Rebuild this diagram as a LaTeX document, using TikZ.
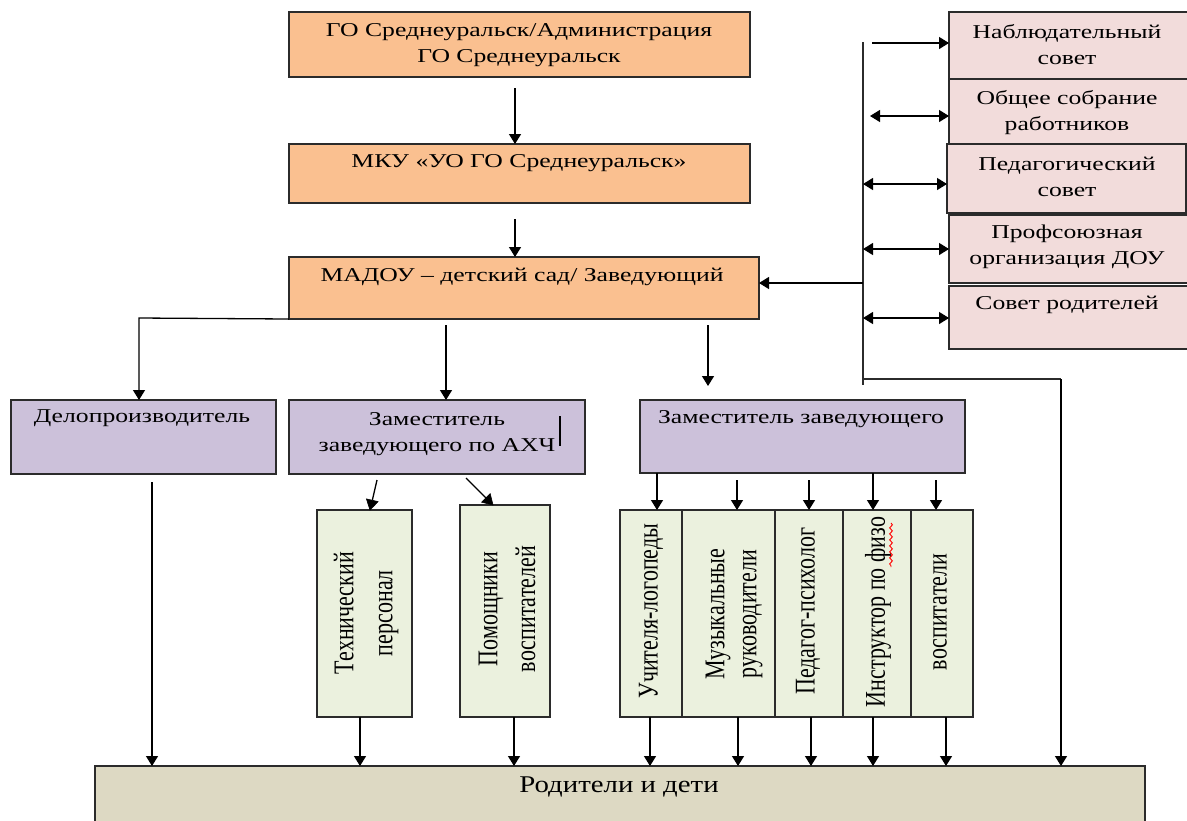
\documentclass[tikz,border=0pt]{standalone}
\usepackage{fontspec}
\setmainfont{Liberation Serif}
\usetikzlibrary{arrows.meta,fit,decorations.pathmorphing}
\definecolor{orbox}{HTML}{FAC090}
\definecolor{purbox}{HTML}{CCC1DA}
\definecolor{pinkbox}{HTML}{F2DCDB}
\definecolor{grbox}{HTML}{EBF1DE}
\definecolor{tanbox}{HTML}{DDD9C3}
\definecolor{edge}{HTML}{2B2B2B}
\begin{document}
\begin{tikzpicture}[x=0.5pt,y=-0.5pt,
  box/.style={draw=edge, line width=0.7pt, inner sep=0pt, outer sep=0pt},
  orbx/.style={box, fill=orbox},
  pubx/.style={box, fill=purbox},
  pkbx/.style={box, fill=pinkbox},
  grbx/.style={box, fill=grbox},
  tnbx/.style={box, fill=tanbox},
  lbl/.style={font=\fontsize{9.8}{13}\selectfont, align=center, inner sep=0pt, xscale=1.31},
  vlbl/.style={font=\fontsize{11}{15}\selectfont, align=center, inner sep=0pt, rotate=90, yscale=1.3},
  arr/.style={draw=black, line width=0.65pt, -{Triangle[length=5pt,width=6pt]}},
  darr/.style={draw=black, line width=0.65pt, {Triangle[length=5pt,width=6pt]}-{Triangle[length=5pt,width=6pt]}},
  ln/.style={draw=edge, line width=0.65pt},
  lnk/.style={draw=black, line width=0.65pt},
  tiphead/.style={fill=black, draw=black, line width=0.3pt, line join=miter},
]
\useasboundingbox (0,0) rectangle (1187,820);
\clip (0,0) rectangle (1187,820);

% top chain
\node[orbx, fit={(289,12) (750,77)}] (gov) {};
\node[lbl] (govt) at (519,45) {ГО Среднеуральск/Администрация\\ГО Среднеуральск};
\node[orbx, fit={(289,144) (750,203)}] (mku) {};
\node[lbl] (mkut) at (519,163) {МКУ «УО ГО Среднеуральск»};
\node[orbx, fit={(289,257) (759,319)}] (madou) {};
\node[lbl] (madout) at (522,277) {МАДОУ – детский сад/ Заведующий};

\draw[arr] (515,0 |- 0,88) -- (515,0 |- mku.north);
\draw[arr] (515,0 |- 0,219) -- (515,0 |- madou.north);

% right councils
\node[pkbx, fit={(949,12) (1190,79)}] (ns) {};
\node[lbl] (nst) at (1067,45) {Наблюдательный\\совет};
\node[pkbx, fit={(949,79) (1190,144)}] (os) {};
\node[lbl] (ost) at (1067,113) {Общее собрание\\работников};
\node[pkbx, fit={(947,144) (1186,213)}] (ps) {};
\node[lbl] (pst) at (1067,177) {Педагогический\\совет};
\node[pkbx, fit={(949,215) (1190,283)}] (prof) {};
\node[lbl] (proft) at (1067,247) {Профсоюзная\\организация ДОУ};
\node[pkbx, fit={(949,286) (1190,349)}] (sr) {};
\node[lbl] (srt) at (1067,305) {Совет родителей};

\coordinate (vtop) at (863,42);
\coordinate (vbot) at (863,385);
\draw[ln] (vtop) -- (vbot);
\draw[arr] (872,43) -- (ns.west |- 0,43);
\draw[darr] (870,116) -- (os.west |- 0,116);
\draw[darr] (863,184) -- (ps.west |- 0,184);
\draw[darr] (863,249) -- (prof.west |- 0,249);
\draw[darr] (863,318) -- (sr.west |- 0,318);
\draw[arr] (863,283) -- (madou.east |- 0,283);

% second level
\node[pubx, fit={(11,400) (276,474)}] (delo) {};
\node[lbl] (delot) at (142,418) {Делопроизводитель};
\node[pubx, fit={(289,400) (585,474)}] (zahch) {};
\node[lbl] (zahcht) at (437,434) {Заместитель\\заведующего по АХЧ};
\draw[line width=1pt] (560,416) -- (560,446);
\node[pubx, fit={(640,400) (965,473)}] (zz) {};
\node[lbl] (zzt) at (801,419) {Заместитель заведующего};

\draw[arr] (madou.south west) -- (139,318) -- (139,0 |- delo.north);
\draw[arr] (446,0 |- 0,325) -- (446,0 |- zahch.north);
\draw[arr] (708,0 |- 0,325) -- (708,386);
\draw[ln] (863,379) -- (1061,379);

% green boxes
\node[grbx, fit={(317,510) (412,717)}] (tech) {};
\node[vlbl] (techt) at (366,613) {Технический\\персонал};
\node[grbx, fit={(460,505) (550,717)}] (pom) {};
\node[vlbl, font=\fontsize{11}{14.6}\selectfont] (pomt) at (507,609) {Помощники\\воспитателей};

\node[grbx, fit={(620,510) (682,717)}] (ul) {};
\node[vlbl] (ult) at (651,611) {Учителя-логопеды};
\node[grbx, fit={(682,510) (775,717)}] (muz) {};
\node[vlbl, font=\fontsize{11}{12.3}\selectfont] (muzt) at (734,614) {Музыкальные\\руководители};
\node[grbx, fit={(775,510) (843,717)}] (psy) {};
\node[vlbl] (psyt) at (808,611) {Педагог-психолог};
\node[grbx, fit={(843,510) (911,717)}] (fiz) {};
\node[vlbl] (fizt) at (878,612) {Инструктор по физо};
\draw[red, line width=0.45pt, decorate, decoration={snake, amplitude=0.7pt, segment length=3pt}] (891,523) -- (891,567);
\node[grbx, fit={(911,510) (973,717)}] (vos) {};
\node[vlbl] (vost) at (940,612) {воспитатели};

% slanted arrows from the AHCh deputy (heads drawn as filled triangles)
\coordinate (techin) at (370,0 |- tech.north);
\coordinate (pomin) at (493,0 |- pom.north);
\draw[lnk] (377,480) -- (372.3,500.3);
\fill[tiphead] (techin) -- (366.4,498.9) -- (378.1,501.6) -- cycle;
\draw[lnk] (466,478) -- (485.9,497.9);
\fill[tiphead] (pomin) -- (481.7,502.2) -- (490.2,493.7) -- cycle;

\draw[arr] (657,0 |- zz.south) -- (657,0 |- ul.north);
\draw[arr] (737,480) -- (737,0 |- muz.north);
\draw[arr] (809,480) -- (809,0 |- psy.north);
\draw[arr] (873,0 |- zz.south) -- (873,0 |- fiz.north);
\draw[arr] (936,480) -- (936,0 |- vos.north);

% bottom
\node[tnbx, fit={(95,766) (1145,840)}] (rd) {};
\node[font=\fontsize{12}{14}\selectfont, inner sep=0pt, xscale=1.2] (rdt) at (619,787) {Родители и дети};

\draw[arr] (152,482) -- (152,0 |- rd.north);
\draw[arr] (360,0 |- tech.south) -- (360,0 |- rd.north);
\draw[arr] (514,0 |- pom.south) -- (514,0 |- rd.north);
\draw[arr] (650,0 |- ul.south) -- (650,0 |- rd.north);
\draw[arr] (738,0 |- muz.south) -- (738,0 |- rd.north);
\draw[arr] (811,0 |- psy.south) -- (811,0 |- rd.north);
\draw[arr] (873,0 |- fiz.south) -- (873,0 |- rd.north);
\draw[arr] (946,0 |- vos.south) -- (946,0 |- rd.north);
\draw[arr] (1061,379) -- (1061,0 |- rd.north);
\end{tikzpicture}
\end{document}
